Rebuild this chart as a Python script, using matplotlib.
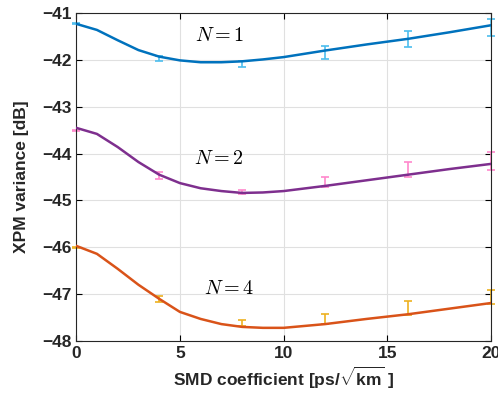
import numpy as np
import matplotlib
matplotlib.use("Agg")
import matplotlib.pyplot as plt

plt.rcParams['font.family'] = ['Liberation Sans', 'DejaVu Sans']
plt.rcParams['mathtext.fontset'] = 'custom'
plt.rcParams['mathtext.rm'] = 'Liberation Sans'
plt.rcParams['mathtext.bf'] = 'Liberation Sans:bold'

# Analytical curves (SMD coefficient vs XPM variance)
smd_curve = [0, 1, 2, 3, 4, 5, 6, 7, 8, 9, 10, 12, 14, 16, 18, 20]
n1_curve = [-41.23, -41.36, -41.58, -41.79, -41.93, -42.01, -42.05, -42.05, -42.03,
            -41.99, -41.94, -41.80, -41.67, -41.55, -41.41, -41.26]
n2_curve = [-43.45, -43.58, -43.86, -44.18, -44.45, -44.63, -44.74, -44.80, -44.84,
            -44.83, -44.80, -44.69, -44.57, -44.45, -44.33, -44.22]
n4_curve = [-45.97, -46.14, -46.46, -46.80, -47.10, -47.38, -47.53, -47.64, -47.70,
            -47.72, -47.72, -47.64, -47.53, -47.43, -47.31, -47.19]

# Simulation points with error bars (low, high)
smd_sim = [0, 4, 8, 12, 16, 20]
n1_low = [-41.24, -42.02, -42.15, -41.98, -41.72, -41.49]
n1_high = [-41.22, -41.92, -42.02, -41.70, -41.38, -41.12]
n2_low = [-43.51, -44.54, -44.87, -44.72, -44.49, -44.34]
n2_high = [-43.49, -44.39, -44.77, -44.49, -44.19, -43.96]
n4_low = [-46.01, -47.17, -47.69, -47.64, -47.44, -47.22]
n4_high = [-45.99, -47.05, -47.55, -47.42, -47.14, -46.92]

fig = plt.figure(figsize=(4.98, 3.96), dpi=100)
ax = fig.add_axes([0.153, 0.139, 0.833, 0.828])

series = [
    (n1_curve, n1_low, n1_high, '#0072BD', '#4DBEEE'),
    (n2_curve, n2_low, n2_high, '#7E2F8E', '#FF88CC'),
    (n4_curve, n4_low, n4_high, '#D95319', '#EDB120'),
]
for curve, lo, hi, lc, ec in series:
    lo = np.array(lo)
    hi = np.array(hi)
    mid = (lo + hi) / 2
    ax.errorbar(smd_sim, mid, yerr=[mid - lo, hi - mid], fmt='none', ecolor=ec,
                elinewidth=1.2, capsize=3, capthick=1.2, zorder=2, clip_on=False)
    ax.plot(smd_curve, curve, color=lc, lw=1.8, zorder=3)

ax.text(6.9, -41.47, r'$N=1$', math_fontfamily='cm', fontsize=14.5, ha='center', va='center')
ax.text(6.9, -44.1, r'$N=2$', math_fontfamily='cm', fontsize=14.5, ha='center', va='center')
ax.text(7.4, -46.87, r'$N=4$', math_fontfamily='cm', fontsize=14.5, ha='center', va='center')

ax.set_xlim(0, 20)
ax.set_ylim(-48, -41)
ax.set_xticks([0, 5, 10, 15, 20])
ax.set_yticks(np.arange(-48, -40, 1))
ax.grid(True, color='#e0e0e0', lw=0.8)
ax.set_axisbelow(True)
ax.tick_params(direction='in', top=True, right=True, labelsize=12.5, length=4, width=0.8,
               labelcolor='#262626')
for lab in ax.get_xticklabels() + ax.get_yticklabels():
    lab.set_fontweight('bold')
for sp in ax.spines.values():
    sp.set_linewidth(0.8)
    sp.set_color('#262626')

ax.set_xlabel(r'SMD coefficient [ps/$\sqrt{\mathbf{km}}$ ]', fontsize=12.5, fontweight='bold',
              labelpad=3, color='#262626')
ax.set_ylabel('XPM variance [dB]', fontsize=12.5, fontweight='bold', labelpad=9, color='#262626')

fig.savefig('out.png', dpi=100)
